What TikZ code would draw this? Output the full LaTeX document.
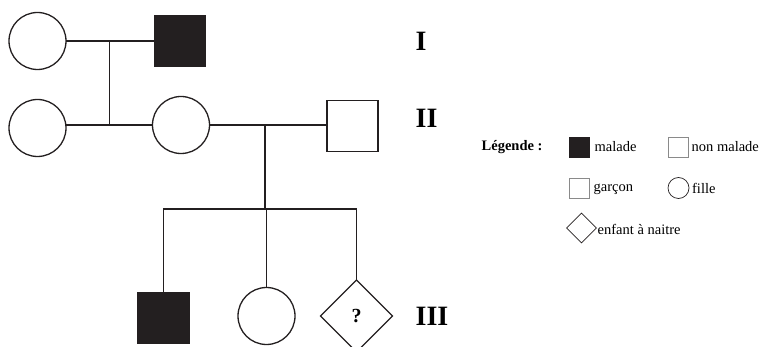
\documentclass[tikz,border=0pt]{standalone}
\usepackage{fontspec}
\setmainfont{Liberation Serif}
\usetikzlibrary{shapes.geometric}
\definecolor{ink}{HTML}{231F20}
\definecolor{lgray}{HTML}{8A8A8A}
\begin{document}
\begin{tikzpicture}[x=1pt,y=-1pt,
  line width=1.3pt,
  fem/.style={circle,draw=ink,minimum size=57pt,inner sep=0pt,outer sep=0pt},
  mal/.style={rectangle,draw=ink,minimum size=51pt,inner sep=0pt,outer sep=0pt},
  aff/.style={fill=ink},
  unb/.style={diamond,draw=ink,minimum size=72pt,inner sep=0pt,outer sep=0pt,font=\bfseries\fontsize{20}{20}\selectfont},
  gen/.style={font=\bfseries\fontsize{28}{28}\selectfont,anchor=west,inner sep=0pt},
  link/.style={draw=ink,line width=1.4pt},
  lsq/.style={rectangle,draw=lgray,line width=0.7pt,minimum size=20pt,inner sep=0pt},
  lcirc/.style={circle,draw=ink,line width=0.7pt,minimum size=21pt,inner sep=0pt},
  ldia/.style={diamond,draw=ink,line width=0.7pt,minimum size=30pt,inner sep=0pt},
  ltxt/.style={font=\fontsize{14.5}{15}\selectfont,anchor=west,inner sep=0pt},
]
\useasboundingbox (0,0) rectangle (763,347);
% generation I
\node[fem] (I1) at (37.5,41) {};
\node[mal,aff] (I2) at (180,41) {};
% generation II
\node[fem] (II1) at (37.5,128) {};
\node[fem] (II2) at (181,125) {};
\node[mal] (II3) at (352.5,126) {};
% generation III
\node[mal,aff] (III1) at (163.5,318) {};
\node[fem] (III2) at (266.5,316) {};
\node[unb] (III3) at (356.5,316) {?};
% connectors
\draw[link] (I1.east) -- (I2.west);
\coordinate (m1) at (109.5,41);
\draw[link] (II1.east |- II2.west) -- (II2.west);
\draw[link] (m1) -- (m1 |- II2.west);
\draw[link] (II2.east) -- (II3.west |- II2.east);
\coordinate (m2) at (265,125);
\coordinate (s) at (265,209);
\draw[link] (m2) -- (s);
\draw[link] (III1.north) -- (III1.north |- s) -- (III3.north |- s) -- (III3.north);
\draw[link] (III2.north |- s) -- (III2.north);
% generation labels
\node[gen] (gI) at (415,41) {I};
\node[gen] (gII) at (415,118) {II};
\node[gen] (gIII) at (415,316) {III};
% legend
\node[font=\bfseries\fontsize{14.5}{15}\selectfont,anchor=west,inner sep=0pt] (leg) at (481,147) {Légende :};
\node[lsq,draw=ink,fill=ink] (l1) at (579.5,147) {};
\node[ltxt] (t1) at (594,147) {malade};
\node[lsq] (l2) at (678,147) {};
\node[ltxt] (t2) at (691,147) {non malade};
\node[lsq] (l3) at (579.5,188) {};
\node[ltxt] (t3) at (593,189) {garçon};
\node[lcirc] (l4) at (678.5,188) {};
\node[ltxt] (t4) at (691.5,188) {fille};
\node[ldia] (l5) at (581.5,228) {};
\node[ltxt] (t5) at (597,229) {enfant à naitre};
\end{tikzpicture}
\end{document}
